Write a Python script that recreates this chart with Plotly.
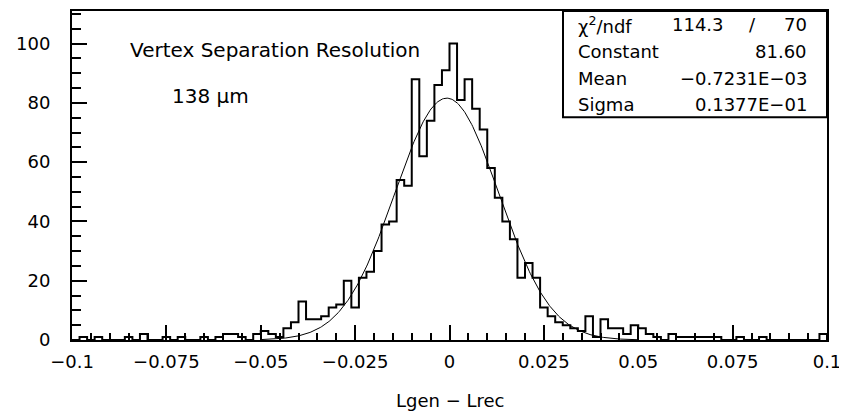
import numpy as np
import plotly.graph_objects as go

# ---- data ----
x_min, x_max, n_bins = -0.1, 0.1, 100
counts = [
    0, 1, 0, 1, 0, 0, 0, 1, 0, 2,
    0, 0, 1, 0, 1, 0, 0, 1, 0, 1,
    2, 2, 1, 0, 2, 3, 2, 1, 4, 6,
    13, 7, 7, 8, 11, 12, 20, 11, 21, 23,
    30, 39, 40, 54, 52, 88, 62, 74, 86, 91,
    100, 81, 88, 78, 71, 58, 48, 40, 34, 21,
    26, 21, 11, 8, 6, 5, 4, 3, 8, 1,
    7, 4, 4, 2, 5, 4, 2, 1, 0, 2,
    1, 1, 1, 1, 1, 1, 0, 0, 1, 0,
    0, 1, 0, 0, 0, 0, 0, 0, 0, 2,
]
fit_constant = 81.60
fit_mean = -0.7231e-03
fit_sigma = 0.1377e-01
fit_lo, fit_hi = -0.05, 0.05
chi2_text, ndf_text = "114.3", "70"
constant_text = "81.60"
mean_text = "−0.7231E−03"
sigma_text = "0.1377E−01"
x_tick_values = [-0.1, -0.075, -0.05, -0.025, 0, 0.025, 0.05, 0.075, 0.1]
x_tick_labels = ["−0.1", "−0.075", "−0.05", "−0.025", "0", "0.025", "0.05", "0.075", "0.1"]
y_tick_values = [0, 20, 40, 60, 80, 100]
y_max = 111

# ---- derived ----
edges = np.linspace(x_min, x_max, n_bins + 1)
step_x = [edges[0]] + list(edges)
step_y = [0] + list(counts) + [0]

fx = np.linspace(fit_lo, fit_hi, 400)
fy = fit_constant * np.exp(-0.5 * ((fx - fit_mean) / fit_sigma) ** 2)

FONT = "DejaVu Sans"
fig = go.Figure()
fig.add_trace(go.Scatter(x=step_x, y=step_y, mode="lines", line=dict(shape="hv", color="black", width=2),
                         hoverinfo="skip", showlegend=False))
fig.add_trace(go.Scatter(x=fx, y=fy, mode="lines", line=dict(color="black", width=1),
                         hoverinfo="skip", showlegend=False))

# page body has an 8px margin; compensate so the plot lands where the reference has it
OFF = 8
W, H = 847 - OFF, 415 - OFF
L, R, T = 72 - OFF, 20, 9 - OFF
B = H - (340 - OFF)
pw, ph = W - L - R, H - T - B

def px_to_paper_x(px):
    return (px - OFF - L) / pw

def px_to_paper_y(py):
    return ((340 - OFF) - (py - OFF)) / ph

fig.update_layout(
    width=W, height=H,
    margin=dict(l=L, r=R, t=T, b=B),
    paper_bgcolor="white", plot_bgcolor="white",
    font=dict(family=FONT, size=18, color="black"),
    xaxis=dict(range=[x_min, x_max], tickvals=x_tick_values, ticktext=x_tick_labels,
               ticks="inside", ticklen=15, tickwidth=1.5, tickcolor="black",
               minor=dict(ticks="inside", ticklen=7, tickwidth=1.5, dtick=0.005, tickcolor="black"),
               showline=True, linewidth=2, linecolor="black", mirror=True,
               showgrid=False, zeroline=False, ticklabelstandoff=4),
    yaxis=dict(range=[0, y_max], tickvals=y_tick_values,
               ticks="inside", ticklen=15, tickwidth=1.5, tickcolor="black",
               minor=dict(ticks="inside", ticklen=9, tickwidth=1.5, dtick=5, tickcolor="black"),
               showline=True, linewidth=2, linecolor="black", mirror=True,
               showgrid=False, zeroline=False, ticklabelstandoff=16),
)

# stats box
fig.add_shape(type="rect", xref="paper", yref="paper",
              x0=px_to_paper_x(563), x1=1.0, y0=px_to_paper_y(116), y1=1.0,
              line=dict(color="black", width=2), fillcolor="white", layer="above")

rows = [
    ("χ<sup>2</sup>/ndf", None, 22.7),
    ("Constant", constant_text, 50),
    ("Mean", mean_text, 76.7),
    ("Sigma", sigma_text, 103.3),
]
for label, val, ypx in rows:
    fig.add_annotation(xref="paper", yref="paper", x=px_to_paper_x(576), y=px_to_paper_y(ypx),
                       text=label, showarrow=False, xanchor="left", yanchor="middle",
                       font=dict(size=18))
    if val is not None:
        fig.add_annotation(xref="paper", yref="paper", x=px_to_paper_x(809), y=px_to_paper_y(ypx),
                           text=val, showarrow=False, xanchor="right", yanchor="middle",
                           font=dict(size=18))
fig.add_annotation(xref="paper", yref="paper", x=px_to_paper_x(726), y=px_to_paper_y(22.7),
                   text=chi2_text, showarrow=False, xanchor="right", yanchor="middle", font=dict(size=18))
fig.add_annotation(xref="paper", yref="paper", x=px_to_paper_x(752), y=px_to_paper_y(22.7),
                   text="/", showarrow=False, xanchor="center", yanchor="middle", font=dict(size=18))
fig.add_annotation(xref="paper", yref="paper", x=px_to_paper_x(809), y=px_to_paper_y(22.7),
                   text=ndf_text, showarrow=False, xanchor="right", yanchor="middle", font=dict(size=18))

# texts
fig.add_annotation(xref="paper", yref="paper", x=px_to_paper_x(128), y=px_to_paper_y(48),
                   text="Vertex Separation Resolution", showarrow=False, xanchor="left", yanchor="middle",
                   font=dict(size=20))
fig.add_annotation(xref="paper", yref="paper", x=px_to_paper_x(170), y=px_to_paper_y(95),
                   text="138 μm", showarrow=False, xanchor="left", yanchor="middle",
                   font=dict(size=20))
fig.add_annotation(xref="paper", yref="paper", x=px_to_paper_x(450), y=px_to_paper_y(401),
                   text="Lgen − Lrec", showarrow=False, xanchor="center", yanchor="middle",
                   font=dict(size=18))

fig.write_html("out.html")
